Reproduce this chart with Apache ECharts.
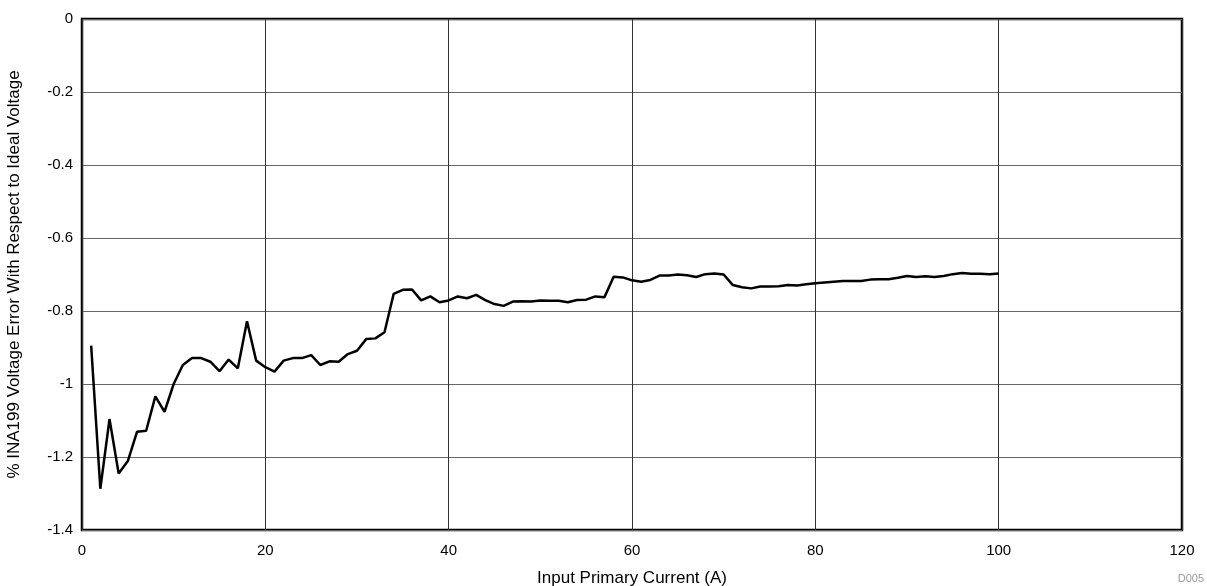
<!DOCTYPE html>
<html>
<head>
<meta charset="utf-8">
<script src="https://cdn.jsdelivr.net/npm/echarts@6/dist/echarts.min.js"></script>
<style>html,body{margin:0;padding:0;background:#fff}#c{width:1207px;height:586px}</style>
</head>
<body>
<div id="c"></div>
<script>
const currents = [];
for (let i = 1; i <= 100; i++) currents.push(i);
const errorPct = [
  -0.895, -1.287, -1.096, -1.245, -1.211, -1.131, -1.128, -1.034, -1.076, -1.000,
  -0.948, -0.929, -0.929, -0.939, -0.965, -0.933, -0.957, -0.828, -0.936, -0.954,
  -0.966, -0.936, -0.929, -0.929, -0.921, -0.948, -0.938, -0.939, -0.918, -0.909,
  -0.877, -0.875, -0.858, -0.753, -0.742, -0.741, -0.771, -0.760, -0.776, -0.771,
  -0.760, -0.765, -0.756, -0.770, -0.781, -0.786, -0.774, -0.773, -0.774, -0.771,
  -0.772, -0.772, -0.776, -0.770, -0.769, -0.760, -0.762, -0.706, -0.708, -0.716,
  -0.720, -0.715, -0.703, -0.703, -0.700, -0.702, -0.707, -0.699, -0.697, -0.700,
  -0.729, -0.735, -0.738, -0.733, -0.733, -0.732, -0.729, -0.730, -0.727, -0.724,
  -0.722, -0.720, -0.718, -0.718, -0.718, -0.714, -0.713, -0.713, -0.709, -0.704,
  -0.707, -0.705, -0.707, -0.704, -0.699, -0.696, -0.698, -0.698, -0.699, -0.697
];
const xTitle = 'Input Primary Current (A)';
const yTitle = '% INA199 Voltage Error With Respect to Ideal Voltage';
const footnote = 'D005';

const chart = echarts.init(document.getElementById('c'), null, {renderer: 'canvas'});
const font = 'Liberation Sans, Arial, sans-serif';
chart.setOption({
  animation: false,
  backgroundColor: '#fff',
  grid: {left: 82, right: 25, top: 19, bottom: 56, containLabel: false, outerBoundsMode: 'none',
    show: true, borderColor: '#000', borderWidth: 2.5, backgroundColor: 'transparent'},
  graphic: [{
    type: 'text', right: 3, bottom: 2,
    style: {text: footnote, fill: '#999', fontSize: 11, fontFamily: font}
  }],
  xAxis: {
    type: 'value', min: 0, max: 120, interval: 20,
    name: xTitle, nameLocation: 'middle', nameGap: 40,
    nameTextStyle: {color: '#000', fontSize: 17, fontFamily: font},
    axisLine: {show: false}, axisTick: {show: false},
    axisLabel: {color: '#000', fontSize: 15, fontFamily: font, margin: 13},
    splitLine: {show: true, lineStyle: {color: '#333', width: 1}}
  },
  yAxis: {
    type: 'value', min: -1.4, max: 0, interval: 0.2,
    name: yTitle, nameLocation: 'middle', nameGap: 59, nameRotate: 90,
    nameTextStyle: {color: '#000', fontSize: 17, fontFamily: font},
    axisLine: {show: false}, axisTick: {show: false},
    axisLabel: {color: '#000', fontSize: 15, fontFamily: font, margin: 9,
      formatter: v => String(Math.round(v * 10) / 10)},
    splitLine: {show: true, lineStyle: {color: '#666', width: 1}}
  },
  series: [{
    type: 'line',
    data: currents.map((c, i) => [c, errorPct[i]]),
    symbol: 'none',
    lineStyle: {color: '#000', width: 2.5},
    z: 5
  }]
});
</script>
</body>
</html>
